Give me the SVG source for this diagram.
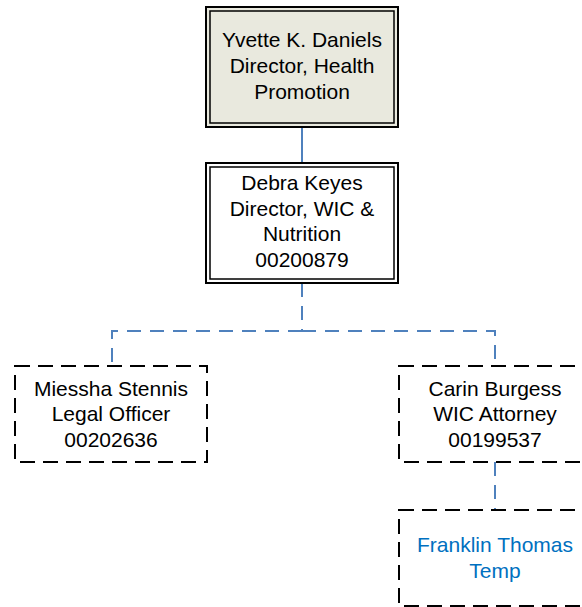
<svg xmlns="http://www.w3.org/2000/svg" width="582" height="607" viewBox="0 0 582 607">
<style>
.t{font-family:"Liberation Sans",Arial,sans-serif;font-size:21px;fill:#000;text-anchor:middle}
.blue{fill:#0070C0}
.outer{fill:none;stroke:#000;stroke-width:2}
.inner{fill:none;stroke:#000;stroke-width:1.5}
.dash{fill:#fff;stroke:#000;stroke-width:2;stroke-dasharray:15 8}
.conn{fill:none;stroke:#4F81BD;stroke-width:2}
.cd{stroke-dasharray:14 9}
</style>
<rect width="582" height="607" fill="#fff"/>
<g id="connectors">
<line class="conn" x1="302" y1="127" x2="302" y2="163"/>
<path class="conn cd" d="M302 283 V331 M302 331 H112 V366 M302 331 H495 V366"/>
<line class="conn cd" x1="495" y1="462" x2="495" y2="510"/>
</g>
<g id="yvette">
<rect x="206" y="7" width="192" height="120" fill="#E9E9DE" stroke="#000" stroke-width="2"/>
<rect class="inner" x="210" y="11" width="184" height="112"/>
<text class="t" x="302" y="47">Yvette K. Daniels</text>
<text class="t" x="302" y="73">Director, Health</text>
<text class="t" x="302" y="99">Promotion</text>
</g>
<g id="debra">
<rect x="206" y="163" width="192" height="120" fill="#fff" stroke="#000" stroke-width="2"/>
<rect class="inner" x="210" y="167" width="184" height="112"/>
<text class="t" x="302" y="190">Debra Keyes</text>
<text class="t" x="302" y="215.5">Director, WIC &amp;</text>
<text class="t" x="302" y="241">Nutrition</text>
<text class="t" x="302" y="266.5">00200879</text>
</g>
<g id="miessha">
<rect class="dash" x="15" y="366" width="192" height="96"/>
<text class="t" x="111" y="395.5">Miessha Stennis</text>
<text class="t" x="111" y="421">Legal Officer</text>
<text class="t" x="111" y="446.5">00202636</text>
</g>
<g id="carin">
<rect class="dash" x="399" y="366" width="192" height="96"/>
<text class="t" x="495" y="395.5">Carin Burgess</text>
<text class="t" x="495" y="421">WIC Attorney</text>
<text class="t" x="495" y="446.5">00199537</text>
</g>
<g id="franklin">
<rect class="dash" x="399" y="510" width="192" height="96"/>
<text class="t blue" x="495" y="552">Franklin Thomas</text>
<text class="t blue" x="495" y="577.5">Temp</text>
</g>
</svg>
